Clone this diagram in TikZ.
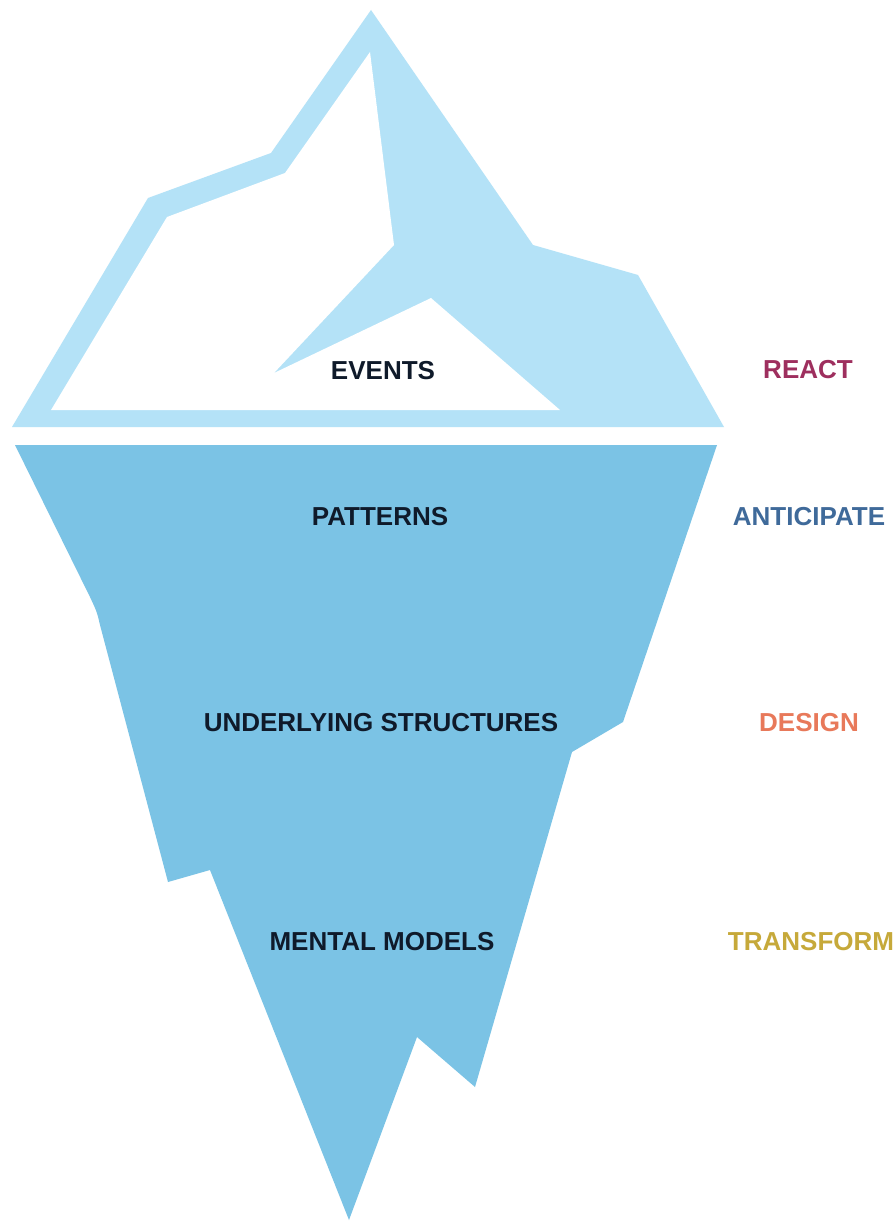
\documentclass[tikz,border=0pt]{standalone}
\usepackage{fontspec}
\setmainfont{Liberation Sans}
\definecolor{icetop}{HTML}{B4E2F7}
\definecolor{icebot}{HTML}{7BC3E5}
\definecolor{lbl}{HTML}{0F1A2A}
\definecolor{creact}{HTML}{9E2F5E}
\definecolor{cantic}{HTML}{3F6A9A}
\definecolor{cdesign}{HTML}{E8795A}
\definecolor{ctrans}{HTML}{C6A93A}
\tikzset{
  layer/.style={font=\fontsize{19.5}{22}\selectfont\bfseries, text=lbl, inner sep=0pt, anchor=center},
  action/.style={font=\fontsize{19.5}{22}\selectfont\bfseries, inner sep=0pt, anchor=center}
}
\begin{document}
\begin{tikzpicture}[x=0.75pt,y=-0.75pt]
\useasboundingbox (0,0) rectangle (895,1223);
\fill[white] (0,0) rectangle (895,1223);
% top part of iceberg
\fill[icetop] (371,10) -- (533,245) -- (638,275) -- (724,427) -- (12,427) -- (148,198) -- (271,153) -- cycle;
\fill[white] (370,52) -- (394,245) -- (274,373) -- (431,298) -- (560,410) -- (51,410) -- (167,217) -- (285,173) -- cycle;
% bottom part of iceberg
\fill[icebot] (15,445) -- (717,445) -- (623,722) -- (572,752) -- (475,1087) -- (417,1037) -- (349,1220) -- (210,870) -- (168,882) -- (100,625) .. controls (97,612) .. (90,597) -- cycle;
% layer labels
\node[layer] (events) at (383,371) {EVENTS};
\node[layer] (patterns) at (380,517) {PATTERNS};
\node[layer] (structures) at (381,723) {UNDERLYING STRUCTURES};
\node[layer] (models) at (382,942) {MENTAL MODELS};
% action labels
\node[action, text=creact] (react) at (808,370) {REACT};
\node[action, text=cantic] (anticipate) at (809,517) {ANTICIPATE};
\node[action, text=cdesign] (design) at (809,723) {DESIGN};
\node[action, text=ctrans] (transform) at (811,942) {TRANSFORM};
\end{tikzpicture}
\end{document}
